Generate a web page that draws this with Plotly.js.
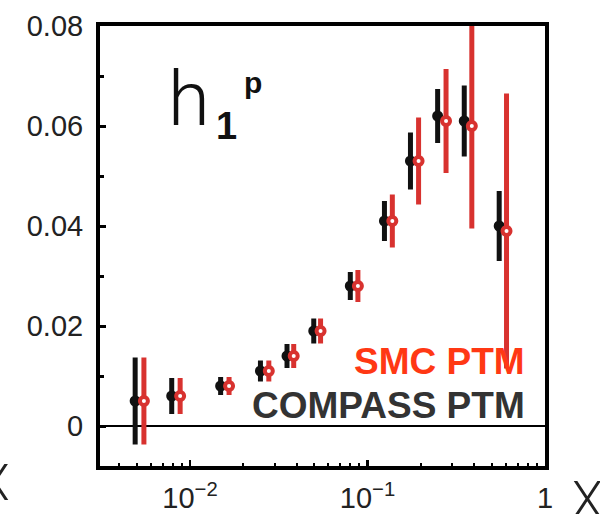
<!DOCTYPE html>
<html>
<head>
<meta charset="utf-8">
<script src="https://cdn.plot.ly/plotly-3.0.1.min.js"></script>
<style>
  html, body { margin: 0; padding: 0; background: #fff; }
  #chart { width: 600px; height: 514px; }
</style>
</head>
<body>
<div id="chart"></div>
<script>
// COMPASS PTM (black)
const xCompass = [0.00491, 0.00789, 0.01488, 0.02494, 0.0352, 0.0498, 0.080, 0.1246, 0.1746, 0.2484, 0.3508, 0.552];
const yCompass = [0.005, 0.006, 0.008, 0.011, 0.014, 0.019, 0.028, 0.041, 0.053, 0.062, 0.061, 0.040];
const errCompass = [0.0087, 0.0036, 0.0018, 0.0021, 0.0024, 0.0025, 0.0028, 0.0040, 0.0057, 0.0054, 0.0071, 0.0070];

// SMC PTM (red)
const xSmc = [0.0055, 0.0088, 0.0166, 0.0278, 0.0384, 0.0544, 0.0883, 0.138, 0.194, 0.277, 0.387, 0.607];
const ySmc = [0.005, 0.006, 0.008, 0.011, 0.014, 0.019, 0.028, 0.041, 0.053, 0.061, 0.060, 0.039];
const errSmc = [0.0087, 0.0036, 0.0018, 0.0021, 0.0024, 0.0025, 0.0032, 0.0053, 0.0087, 0.0104, 0.0205, 0.0275];

// tick labels
const xTickVals = [0.01, 0.1, 1];
const xTickText = ['10<sup>\u22122</sup>', '10<sup>\u22121</sup>', '1'];
const yTickVals = [0, 0.02, 0.04, 0.06, 0.08];
const yTickText = ['0', '0.02', '0.04', '0.06', '0.08'];

const legendSmc = 'SMC PTM';
const legendCompass = 'COMPASS PTM';

const FONT = 'Liberation Sans, Arial, Helvetica, sans-serif';
const RED = '#d8322f';

const minorX = [];
for (let d = -3; d <= -1; d++) {
  for (let k = 2; k <= 9; k++) minorX.push(k * Math.pow(10, d));
}

const traces = [
  {
    type: 'scatter', mode: 'markers', name: legendCompass,
    x: xCompass, y: yCompass,
    error_y: { type: 'data', array: errCompass, visible: true, thickness: 5, width: 0, color: '#111' },
    marker: { symbol: 'circle', size: 11, color: '#111' },
    cliponaxis: false
  },
  {
    type: 'scatter', mode: 'markers', name: legendSmc,
    x: xSmc, y: ySmc,
    error_y: { type: 'data', array: errSmc, visible: true, thickness: 5, width: 0, color: RED },
    marker: { symbol: 'circle', size: 8, color: '#ffffff', line: { color: RED, width: 4 } },
    cliponaxis: false
  }
];

const layout = {
  width: 600, height: 514,
  margin: { l: 100, r: 55, t: 26, b: 48 },
  paper_bgcolor: '#fff', plot_bgcolor: '#fff',
  showlegend: false,
  font: { family: FONT, color: '#222' },
  xaxis: {
    type: 'log', range: [-2.507, 0],
    tickmode: 'array', tickvals: xTickVals, ticktext: xTickText,
    ticks: 'inside', ticklen: 6, tickwidth: 2.5, tickcolor: '#000',
    showline: true, linewidth: 4, linecolor: '#000', mirror: true,
    showgrid: false, zeroline: false,
    tickfont: { size: 29, family: FONT, color: '#222' },
    ticklabelstandoff: 3,
    minor: { tickvals: minorX, ticks: 'inside', ticklen: 3, tickwidth: 2, tickcolor: '#000', showgrid: false }
  },
  yaxis: {
    range: [-0.008, 0.08],
    tickmode: 'array', tickvals: yTickVals, ticktext: yTickText,
    ticks: 'inside', ticklen: 6, tickwidth: 3, tickcolor: '#000',
    showline: true, linewidth: 4, linecolor: '#000', mirror: true,
    showgrid: false, zeroline: true, zerolinecolor: '#000', zerolinewidth: 1.5,
    tickfont: { size: 29, family: FONT, color: '#222' },
    ticklabelstandoff: 7,
    minor: { dtick: 0.01, ticks: 'inside', ticklen: 4, tickwidth: 3, tickcolor: '#000', showgrid: false }
  },
  annotations: [
    { xref: 'paper', yref: 'paper', x: 0.2, y: 0.835, xanchor: 'center', yanchor: 'middle',
      text: 'h', showarrow: false, font: { family: 'Roboto, ' + FONT, size: 76, weight: 300, color: '#111' } },
    { xref: 'paper', yref: 'paper', x: 0.284, y: 0.7727, xanchor: 'center', yanchor: 'middle',
      text: '1', showarrow: false, font: { family: FONT, size: 38, weight: 'bold', color: '#111' } },
    { xref: 'paper', yref: 'paper', x: 0.3427, y: 0.8716, xanchor: 'center', yanchor: 'middle',
      text: 'p', showarrow: false, font: { family: FONT, size: 30, weight: 'bold', color: '#111' } },
    { xref: 'paper', yref: 'paper', x: 0.9596, y: 0.2386, xanchor: 'right', yanchor: 'middle',
      text: '<b>' + legendSmc + '</b>', showarrow: false, font: { family: FONT, size: 37, color: '#ff3814' } },
    { xref: 'paper', yref: 'paper', x: 0.9596, y: 0.1386, xanchor: 'right', yanchor: 'middle',
      text: '<b>' + legendCompass + '</b>', showarrow: false, font: { family: FONT, size: 37, color: '#333333' } },
    { xref: 'paper', yref: 'paper', x: 1.0944, y: -0.0773, xanchor: 'center', yanchor: 'middle',
      text: 'X', showarrow: false, font: { family: 'Roboto, ' + FONT, size: 50, weight: 300, color: '#222' } },
    { xref: 'paper', yref: 'paper', x: -0.236, y: -0.0386, xanchor: 'center', yanchor: 'middle',
      text: 'X', showarrow: false, font: { family: 'Roboto, ' + FONT, size: 50, weight: 300, color: '#222' } }
  ]
};

Plotly.newPlot('chart', traces, layout, { staticPlot: true, displayModeBar: false });
</script>
</body>
</html>
